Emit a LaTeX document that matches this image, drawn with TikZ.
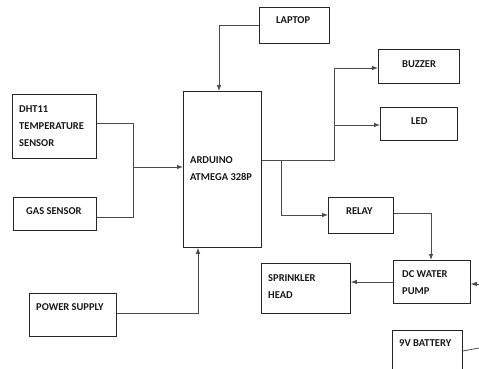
\documentclass[tikz,border=0pt]{standalone}
\usepackage{fontspec}
\setmainfont{Carlito}
\usetikzlibrary{arrows.meta}
\begin{document}
\begin{tikzpicture}[x=1pt,y=-1pt,
  box/.style={draw=black!85, line width=0.8pt, anchor=north west, inner sep=0pt},
  txt/.style={font=\fontsize{10.5}{17}\selectfont\bfseries, inner sep=0pt, align=left, text=black!90},
  ln/.style={draw=black!70, line width=0.8pt},
  arr/.style={ln, -{Latex[length=6pt,width=4.5pt]}}]
\clip (0,0) rectangle (479,368);
\fill[white] (0,0) rectangle (479,368);
% boxes
\node[box, minimum width=84pt, minimum height=64pt] (dht) at (12,94) {};
\node[box, minimum width=83pt, minimum height=33pt] (gas) at (13,197) {};
\node[box, minimum width=78pt, minimum height=156pt] (ard) at (183,91) {};
\node[box, minimum width=70pt, minimum height=36pt] (lap) at (259,7) {};
\node[box, minimum width=81pt, minimum height=34pt] (buz) at (378,49) {};
\node[box, minimum width=77pt, minimum height=33pt] (led) at (380,107) {};
\node[box, minimum width=65pt, minimum height=36pt] (rel) at (328,197) {};
\node[box, minimum width=77pt, minimum height=43pt] (pump) at (393,260) {};
\node[box, minimum width=89pt, minimum height=50pt] (spr) at (261,263) {};
\node[box, minimum width=70pt, minimum height=50pt] (bat) at (392,330) {};
\node[box, minimum width=87pt, minimum height=43pt] (ps) at (29,293) {};
% texts
\node[txt, anchor=west] (tdht) at (19,126) {DHT11\\TEMPERATURE\\SENSOR};
\node[txt, anchor=west] (tgas) at (26,211) {GAS SENSOR};
\node[txt, anchor=west] (tard) at (190,169) {ARDUINO\\ATMEGA 328P};
\node[txt, anchor=west] (tlap) at (276,20) {LAPTOP};
\node[txt, anchor=west] (tbuz) at (402,64) {BUZZER};
\node[txt, anchor=west] (tled) at (411,121) {LED};
\node[txt, anchor=west] (trel) at (346,211) {RELAY};
\node[txt, anchor=west] (tpump) at (402,283) {DC WATER\\PUMP};
\node[txt, anchor=west] (tspr) at (268,287) {SPRINKLER\\HEAD};
\node[txt, anchor=west] (tbat) at (399,343) {9V BATTERY};
\node[txt, anchor=west] (tps) at (36,307) {POWER SUPPLY};
% junctions
\coordinate (j1) at (133,123);
\coordinate (j2) at (133,217);
\coordinate (j3) at (133,167);
\coordinate (l1) at (219,25);
\coordinate (a1) at (334,160);
\coordinate (a2) at (334,68);
\coordinate (a3) at (334,125);
\coordinate (a4) at (281,160);
\coordinate (a5) at (281,215);
\coordinate (r1) at (431,213);
\coordinate (p1) at (393,282);
\coordinate (e1) at (479,284);
\coordinate (b1) at (462,351);
\coordinate (e2) at (479,348);
\coordinate (s1) at (198,313);
% connectors
\draw[ln] (dht.east|-j1) -- (j1) -- (j2) -- (gas.east|-j2);
\draw[arr] (j3) -- (ard.west|-j3);
\draw[arr] (lap.west|-l1) -- (l1) -- (ard.north-|l1);
\draw[ln] (ard.east|-a1) -- (a1) -- (a2);
\draw[arr] (a2) -- (buz.west|-a2);
\draw[arr] (a3) -- (led.west|-a3);
\draw[arr] (a4) -- (a5) -- (rel.west|-a5);
\draw[arr] (rel.east|-r1) -- (r1) -- (pump.north-|r1);
\draw[arr] (pump.west|-p1) -- (spr.east|-p1);
\draw[arr] (e1) -- (pump.east|-e1);
\draw[ln] (bat.east|-b1) -- (e2);
\draw[arr] (ps.east|-s1) -- (s1) -- (ard.south-|s1);
\end{tikzpicture}
\end{document}
